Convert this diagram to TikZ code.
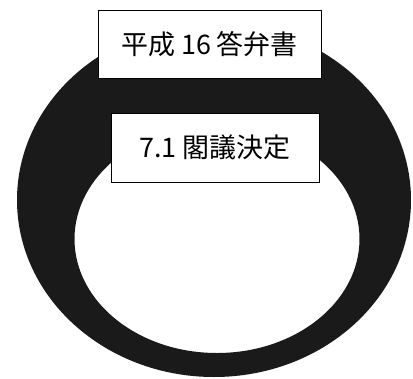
\documentclass[tikz,border=0pt]{standalone}
\usepackage{fontspec}
\usepackage{tikz}
\newfontfamily\jpfont{Noto Sans CJK JP}
\definecolor{halka}{HTML}{1A1A1A}
\tikzset{
  kutu/.style={draw=black,line width=0.8pt,fill=white,inner sep=0pt,
    font=\jpfont\fontsize{23}{27}\selectfont}
}

\begin{document}
\begin{tikzpicture}[x=0.03cm,y=-0.03cm]
\useasboundingbox (0,0) rectangle (413,378);
% halka
\fill[halka,even odd rule] (214,200) ellipse [x radius=197,y radius=177]
  (217,239) ellipse [x radius=142.5,y radius=114];
\node[kutu,minimum width=6.69cm,minimum height=2.04cm] (toben) at (209.5,44) {平成 16 答弁書};
\node[kutu,minimum width=6.24cm,minimum height=2.07cm] (kakugi) at (215,147.5) {7.1 閣議決定};
\end{tikzpicture}
\end{document}
